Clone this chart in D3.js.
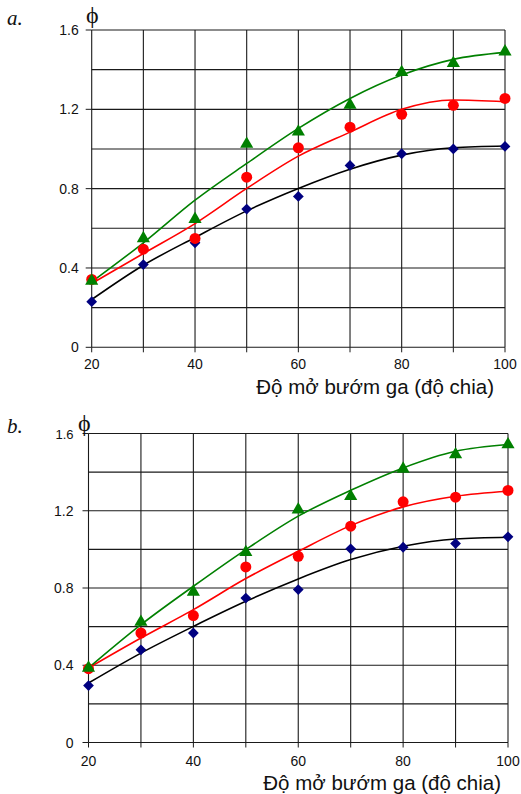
<!DOCTYPE html>
<html>
<head>
<meta charset="utf-8">
<script src="https://cdn.jsdelivr.net/npm/d3@7"></script>
<style>
body{margin:0;background:#fff;}
svg text{font-family:"Liberation Sans",Arial,sans-serif;}
</style>
</head>
<body>
<div id="chart"></div>
<script>
// x values (do mo buom ga)
const xVals=[20,30,40,50,60,70,80,90,100];
const xTickLabels=[20,40,60,80,100];
const yTickLabels=[0,0.4,0.8,1.2,1.6];
const axisTitle="Độ mở bướm ga (độ chia)";

// panel a - measured points
const aBlue=[0.23,0.417,0.527,0.697,0.761,0.917,0.976,1.0,1.013];
const aRed=[0.342,0.495,0.549,0.858,1.006,1.11,1.175,1.22,1.255];
const aGreen=[0.335,0.549,0.646,1.025,1.087,1.222,1.387,1.432,1.491];
// panel a - trend curves
const aBlackFit=[0.241,0.414,0.554,0.688,0.801,0.898,0.969,1.006,1.015];
const aRedFit=[0.322,0.473,0.624,0.801,0.964,1.085,1.2,1.247,1.238];
const aGreenFit=[0.33,0.527,0.742,0.927,1.104,1.255,1.373,1.452,1.487];

// panel b - measured points
const bBlue=[0.295,0.48,0.567,0.748,0.792,1.003,1.011,1.03,1.065];
const bRed=[0.382,0.567,0.657,0.909,0.964,1.12,1.246,1.27,1.305];
const bGreen=[0.386,0.624,0.78,0.985,1.206,1.275,1.417,1.491,1.543];
// panel b - trend curves
const bBlackFit=[0.308,0.463,0.601,0.731,0.847,0.947,1.016,1.054,1.063];
const bRedFit=[0.386,0.541,0.688,0.849,0.99,1.123,1.22,1.275,1.301];
const bGreenFit=[0.386,0.61,0.809,0.999,1.172,1.306,1.422,1.508,1.543];

const W=521,H=794;
const svg=d3.select("#chart").append("svg").attr("width",W).attr("height",H);

function panel(opt){
  const x=d3.scaleLinear().domain([20,100]).range([opt.x0,opt.x1]);
  const y=d3.scaleLinear().domain([0,1.6]).range([opt.y0,opt.y1]);
  const g=svg.append("g");

  // grid
  g.selectAll(".vg").data(xVals).enter().append("line")
    .attr("x1",d=>x(d)).attr("x2",d=>x(d)).attr("y1",y(0)).attr("y2",y(1.6))
    .attr("stroke","#1a1a1a").attr("stroke-width",1.1);
  g.selectAll(".hg").data(d3.range(0,1.61,0.2)).enter().append("line")
    .attr("x1",x(20)).attr("x2",x(100)).attr("y1",d=>y(d)).attr("y2",d=>y(d))
    .attr("stroke","#1a1a1a").attr("stroke-width",1.1);

  // ticks
  g.selectAll(".xt").data(xVals).enter().append("line")
    .attr("x1",d=>x(d)).attr("x2",d=>x(d)).attr("y1",y(0)).attr("y2",y(0)+5)
    .attr("stroke","#1a1a1a");
  g.selectAll(".yt").data(yTickLabels).enter().append("line")
    .attr("x1",x(20)-6).attr("x2",x(20)).attr("y1",d=>y(d)).attr("y2",d=>y(d))
    .attr("stroke","#1a1a1a");

  g.selectAll(".xl").data(xTickLabels).enter().append("text")
    .attr("x",d=>x(d)).attr("y",y(0)+opt.xlabOff)
    .attr("text-anchor","middle").style("font-size","14px").attr("fill","#111")
    .text(d=>d);
  g.selectAll(".yl").data(yTickLabels).enter().append("text")
    .attr("x",x(20)-opt.ylabGap).attr("y",d=>y(d)+5)
    .attr("text-anchor","end").style("font-size",d=>(d==1.6?opt.topLabSize:14)+"px").attr("fill","#111")
    .text(d=>d);

  // curves
  const line=d3.line().x((d,i)=>x(xVals[i])).y(d=>y(d)).curve(d3.curveMonotoneX);
  [[opt.blackFit,"#000"],[opt.redFit,"#ff0000"],[opt.greenFit,"#008000"]].forEach(s=>{
    g.append("path").datum(s[0]).attr("fill","none").attr("stroke",s[1])
      .attr("stroke-width",1.6).attr("d",line);
  });

  // markers
  g.selectAll(".dia").data(opt.blue).enter().append("path")
    .attr("d",d3.symbol().type(d3.symbolSquare).size(58))
    .attr("transform",(d,i)=>"translate("+x(xVals[i])+","+y(d)+") rotate(45)")
    .attr("fill","#000080");
  g.selectAll(".cir").data(opt.red).enter().append("circle")
    .attr("cx",(d,i)=>x(xVals[i])).attr("cy",d=>y(d)).attr("r",5.5)
    .attr("fill","#ff0000");
  g.selectAll(".tri").data(opt.green).enter().append("path")
    .attr("d",d3.symbol().type(d3.symbolTriangle).size(75))
    .attr("transform",(d,i)=>"translate("+x(xVals[i])+","+y(d)+")")
    .attr("fill","#008000");

  // labels
  svg.append("text").attr("x",opt.titleX).attr("y",opt.titleY)
    .attr("text-anchor","end").style("font-size","20.5px").attr("fill","#111").text(axisTitle);
  svg.append("text").attr("x",7).attr("y",opt.letterY)
    .style("font-family","Liberation Serif, serif").attr("font-style","italic")
    .style("font-size","21px").attr("fill","#111").text(opt.letter);
  svg.append("text").attr("x",opt.phiX).attr("y",opt.phiY)
    .style("font-family","Liberation Serif, serif").style("font-size","24px").attr("fill","#111").text("ϕ");
}

panel({x0:91.7,x1:505,y0:347.3,y1:30,xlabOff:22,ylabGap:13,topLabSize:14,titleX:494,titleY:394,letter:"a.",letterY:25,phiX:86,phiY:23,
  blue:aBlue,red:aRed,green:aGreen,blackFit:aBlackFit,redFit:aRedFit,greenFit:aGreenFit});
panel({x0:88.5,x1:508,y0:742.5,y1:433.5,xlabOff:23,ylabGap:15,topLabSize:13,titleX:501,titleY:790,letter:"b.",letterY:433,phiX:78,phiY:431,
  blue:bBlue,red:bRed,green:bGreen,blackFit:bBlackFit,redFit:bRedFit,greenFit:bGreenFit});
</script>
</body>
</html>
